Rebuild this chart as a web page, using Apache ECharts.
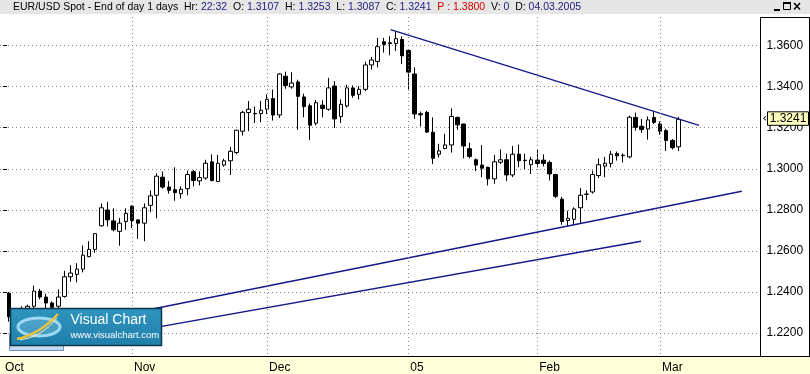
<!DOCTYPE html>
<html><head><meta charset="utf-8">
<script src="https://cdn.jsdelivr.net/npm/echarts@6/dist/echarts.min.js"></script>
<style>html,body{margin:0;padding:0;background:#fff}#c{width:810px;height:374px}</style>
</head><body><div id="c"></div><script>
// ---- data (EUR/USD daily, Oct 2004 - 4 Mar 2005) ----
const openVals = [
1.2394,1.2280,1.2300,1.2285,1.2330,1.2404,1.2375,1.2346,1.2330,1.2378,
1.2474,1.2485,1.2511,1.2572,1.2607,1.2722,1.2799,1.2746,1.2695,1.2743,
1.2818,1.2751,1.2735,1.2822,1.2871,1.2959,1.2911,1.2898,1.2879,1.2903,
1.2986,1.2941,1.2955,1.3034,1.2938,1.3018,1.3039,1.3079,1.3183,1.3274,
1.3270,1.3269,1.3290,1.3342,1.3262,1.3451,1.3399,1.3423,1.3350,1.3307,
1.3222,1.3310,1.3290,1.3403,1.3255,1.3306,1.3394,1.3363,1.3387,1.3506,
1.3523,1.3619,1.3614,1.3610,1.3630,1.3577,1.3462,1.3268,1.3275,1.3178,
1.3071,1.3099,1.3116,1.3250,1.3218,1.3098,1.3044,1.3018,1.3007,1.2951,
1.3032,1.3044,1.2970,1.3071,1.3042,1.3020,1.3042,1.3042,1.3031,1.2972,
1.2852,1.2748,1.2754,1.2810,1.2875,1.2887,1.2967,1.3013,1.3026,1.3074,
1.3066,1.3058,1.3250,1.3207,1.3194,1.3250,1.3218,1.3186,1.3138,1.3107];
const highVals = [
1.2400,1.2318,1.2330,1.2338,1.2431,1.2415,1.2391,1.2354,1.2412,1.2503,
1.2530,1.2540,1.2626,1.2647,1.2684,1.2831,1.2839,1.2807,1.2760,1.2807,
1.2822,1.2753,1.2831,1.2895,1.2978,1.2987,1.2940,1.3007,1.2914,1.2991,
1.2994,1.2987,1.3044,1.3070,1.3068,1.3049,1.3107,1.3190,1.3282,1.3330,
1.3303,1.3331,1.3363,1.3386,1.3466,1.3473,1.3470,1.3434,1.3366,1.3318,
1.3335,1.3334,1.3443,1.3427,1.3338,1.3410,1.3406,1.3403,1.3522,1.3545,
1.3638,1.3638,1.3646,1.3667,1.3646,1.3580,1.3494,1.3279,1.3282,1.3250,
1.3122,1.3170,1.3294,1.3255,1.3220,1.3127,1.3050,1.3116,1.3010,1.3068,
1.3094,1.3074,1.3111,1.3118,1.3074,1.3058,1.3094,1.3070,1.3040,1.2975,
1.2863,1.2796,1.2812,1.2906,1.2895,1.2991,1.3050,1.3058,1.3087,1.3084,
1.3075,1.3259,1.3274,1.3243,1.3255,1.3282,1.3231,1.3195,1.3145,1.3253];
const lowVals = [
1.2255,1.2250,1.2262,1.2270,1.2318,1.2364,1.2320,1.2300,1.2318,1.2372,
1.2450,1.2447,1.2495,1.2569,1.2591,1.2719,1.2719,1.2695,1.2625,1.2703,
1.2711,1.2658,1.2647,1.2788,1.2759,1.2903,1.2879,1.2844,1.2855,1.2871,
1.2914,1.2919,1.2946,1.2938,1.2935,1.3010,1.2970,1.3071,1.3162,1.3183,
1.3223,1.3227,1.3267,1.3235,1.3248,1.3390,1.3390,1.3190,1.3251,1.3140,
1.3212,1.3251,1.3283,1.3199,1.3223,1.3298,1.3346,1.3338,1.3378,1.3483,
1.3494,1.3566,1.3553,1.3574,1.3510,1.3382,1.3243,1.3207,1.3175,1.3023,
1.3055,1.3095,1.3079,1.3190,1.3051,1.3051,1.2988,1.2959,1.2919,1.2927,
1.3023,1.2940,1.2959,1.3007,1.2999,1.2975,1.3007,1.3011,1.2943,1.2858,
1.2727,1.2722,1.2727,1.2735,1.2847,1.2879,1.2955,1.2959,1.3007,1.3040,
1.3031,1.3051,1.3186,1.3175,1.3142,1.3218,1.3166,1.3087,1.3094,1.3087];
const closeVals = [
1.2279,1.2300,1.2285,1.2330,1.2404,1.2375,1.2346,1.2325,1.2375,1.2474,
1.2492,1.2511,1.2579,1.2607,1.2684,1.2810,1.2751,1.2703,1.2735,1.2783,
1.2748,1.2735,1.2810,1.2868,1.2964,1.2911,1.2895,1.2884,1.2900,1.2972,
1.2943,1.2957,1.3027,1.2943,1.3027,1.3039,1.3085,1.3188,1.3275,1.3290,
1.3268,1.3285,1.3338,1.3262,1.3462,1.3406,1.3418,1.3353,1.3303,1.3212,
1.3322,1.3294,1.3394,1.3243,1.3314,1.3394,1.3358,1.3387,1.3506,1.3530,
1.3595,1.3606,1.3610,1.3634,1.3550,1.3471,1.3267,1.3263,1.3179,1.3051,
1.3087,1.3116,1.3255,1.3214,1.3111,1.3060,1.3018,1.3003,1.2951,1.3034,
1.3044,1.2970,1.3071,1.3039,1.3040,1.3044,1.3026,1.3026,1.2975,1.2866,
1.2743,1.2759,1.2804,1.2871,1.2877,1.2972,1.3020,1.3027,1.3071,1.3063,
1.3064,1.3251,1.3202,1.3191,1.3238,1.3226,1.3183,1.3138,1.3103,1.3241];

const slotCount = 124;          // day slots on the time axis (incl. empty future slots)
const firstCandleSlot = 1;      // slot 0 = 1 Oct (no bar drawn)
const monthTickSlots  = [0, 21, 43, 66, 87, 107];
const monthTickLabels = ['Oct', 'Nov', 'Dec', '05', 'Feb', 'Mar'];
const monthGridSlots  = [21, 43, 66, 87, 107];
const yMin = 1.20, yMax = 1.38, yStep = 0.02;
// trend lines: [slot, price] end points
const resistanceLine = [[63.1, 1.3678], [113.35, 1.32115]];
const supportLineA   = [[6.2, 1.22086], [120.3, 1.28902]];
const supportLineB   = [[4.04, 1.21161], [103.92, 1.2647]];
const headerTitle = 'EUR/USD Spot - End of day 1 days';
const headerHour = '22:32', headerPrev = '1.3800', headerVol = '0', headerDate = '04.03.2005';

// ---- chart ----
const FONT = 'Liberation Sans, Arial, sans-serif';
const chart = echarts.init(document.getElementById('c'), null, {renderer: 'canvas', width: 810, height: 374});
const slots = Array.from({length: slotCount}, (_, i) => String(i));
const tickLabelOf = {};
monthTickSlots.forEach((s, j) => { tickLabelOf[s] = monthTickLabels[j]; });
const candleRows = openVals.map((o, i) => [firstCandleSlot + i, o, closeVals[i], lowVals[i], highVals[i]]);
const trendStyle = {color: '#17178c', width: 1.4};

chart.setOption({
  animation: false,
  backgroundColor: '#ffffff',
  grid: [
    {left: -1.2, right: 48.6, top: 4.6, bottom: -5.9},
    {left: -1.2, right: 48.6, top: 356, bottom: 0}
  ],
  xAxis: [
    {type: 'category', gridIndex: 0, data: slots, show: false},
    {type: 'category', gridIndex: 1, data: slots, position: 'top', z: 12,
     axisLine: {show: false},
     axisTick: {show: true, inside: true, length: 7, alignWithLabel: true,
                interval: (i) => (i in tickLabelOf), lineStyle: {color: '#000', width: 1}},
     axisLabel: {show: true, inside: true, interval: (i) => (i in tickLabelOf),
                 formatter: (v, i) => tickLabelOf[i] || '', align: 'left', verticalAlign: 'middle',
                 margin: 12, padding: [0, 0, 0, 2], color: '#000', fontSize: 12, fontFamily: FONT},
     splitLine: {show: false}},
    {type: 'value', gridIndex: 0, min: -0.5, max: slotCount - 0.5, show: false}
  ],
  yAxis: [
    {type: 'value', gridIndex: 0, position: 'right', min: yMin, max: yMax, interval: yStep,
     axisLine: {show: false},
     axisTick: {show: true, length: 4, lineStyle: {color: '#000'}},
     axisLabel: {margin: 5, color: '#000', fontSize: 12, fontFamily: FONT,
                 formatter: v => (v > yMax - 0.005 || v < yMin + 0.005) ? '' : v.toFixed(4)},
     splitLine: {show: true, lineStyle: {color: '#808080', type: [1, 3], width: 1}}},
    {type: 'value', gridIndex: 1, show: false}
  ],
  series: [
    {type: 'candlestick', xAxisIndex: 0, yAxisIndex: 0, data: candleRows,
     encode: {x: 0, y: [1, 2, 3, 4]}, barWidth: 4, silent: true,
     itemStyle: {color: '#ffffff', color0: '#000000', borderColor: '#000000', borderColor0: '#000000',
                 borderColorDoji: '#000000', borderWidth: 1},
     markLine: {silent: true, symbol: 'none', label: {show: false}, animation: false,
                lineStyle: {color: '#808080', type: [1, 3], width: 1},
                emphasis: {disabled: true},
                data: monthGridSlots.map(s => ({xAxis: s}))}},
    {type: 'line', xAxisIndex: 2, yAxisIndex: 0, data: resistanceLine, symbol: 'none', silent: true, lineStyle: trendStyle, z: 3},
    {type: 'line', xAxisIndex: 2, yAxisIndex: 0, data: supportLineA, symbol: 'none', silent: true, lineStyle: trendStyle, z: 3},
    {type: 'line', xAxisIndex: 2, yAxisIndex: 0, data: supportLineB, symbol: 'none', silent: true, lineStyle: trendStyle, z: 3}
  ]
});

const last = closeVals.length - 1;
const tagY = chart.convertToPixel({yAxisIndex: 0}, closeVals[last]);
const headerRich = '{k|' + headerTitle + '  Hr: }{v|' + headerHour + '}' +
  '{k|  O: }{v|' + openVals[last].toFixed(4) + '}' +
  '{k|  H: }{v|' + highVals[last].toFixed(4) + '}' +
  '{k|  L: }{v|' + lowVals[last].toFixed(4) + '}' +
  '{k|  C: }{v|' + closeVals[last].toFixed(4) + '}' +
  '{r|  P : ' + headerPrev + '}' +
  '{k|  V: }{v|' + headerVol + '}' +
  '{k|  D: }{v|' + headerDate + '}';
const hf = '10.5px ' + FONT;

chart.setOption({
  graphic: [
    // x-axis band
    {type: 'rect', z: 5, silent: true, shape: {x: 0, y: 356, width: 810, height: 18}, style: {fill: '#ffffd9'}},
    {type: 'line', z: 13, silent: true, shape: {x1: 0, y1: 356.5, x2: 810, y2: 356.5}, style: {stroke: '#000', lineWidth: 1}},
    // right price panel frame
    {type: 'line', z: 13, silent: true, shape: {x1: 760.5, y1: 17, x2: 760.5, y2: 356}, style: {stroke: '#000', lineWidth: 1}},
    {type: 'line', z: 13, silent: true, shape: {x1: 760.5, y1: 17.5, x2: 809.5, y2: 17.5}, style: {stroke: '#000', lineWidth: 1}},
    {type: 'line', z: 13, silent: true, shape: {x1: 809.5, y1: 17, x2: 809.5, y2: 356}, style: {stroke: '#000', lineWidth: 1}},
    // header bar
    {type: 'rect', z: 10, silent: true, shape: {x: 0, y: 0, width: 810, height: 14}, style: {fill: '#e6e6e6'}},
    {type: 'text', z: 11, silent: true, style: {x: 13, y: 7, text: headerRich, verticalAlign: 'middle', font: hf,
      rich: {k: {fill: '#000', font: hf}, v: {fill: '#1c1c80', font: hf}, r: {fill: '#d40000', font: hf}}}},
    // window buttons
    {type: 'rect', z: 11, silent: true, shape: {x: 774, y: 9, width: 6, height: 2}, style: {fill: '#000'}},
    {type: 'rect', z: 11, silent: true, shape: {x: 783.5, y: 2.5, width: 7, height: 7}, style: {fill: 'none', stroke: '#000', lineWidth: 1}},
    {type: 'rect', z: 11, silent: true, shape: {x: 783, y: 2, width: 8, height: 2}, style: {fill: '#000'}},
    {type: 'line', z: 11, silent: true, shape: {x1: 794, y1: 3, x2: 800, y2: 9.5}, style: {stroke: '#000', lineWidth: 1.5}},
    {type: 'line', z: 11, silent: true, shape: {x1: 800, y1: 3, x2: 794, y2: 9.5}, style: {stroke: '#000', lineWidth: 1.5}},
    // logo
    {type: 'rect', z: 20, silent: true, shape: {x: 9.5, y: 334.5, width: 54, height: 16}, style: {fill: '#c6daf0', stroke: '#6f90c0', lineWidth: 1}},
    {type: 'rect', z: 21, silent: true, shape: {x: 10.5, y: 308.5, width: 151, height: 37},
     style: {fill: new echarts.graphic.LinearGradient(0, 0, 0, 1, [{offset: 0, color: '#2f95bf'}, {offset: 1, color: '#1f7eaa'}]),
             stroke: '#0e3550', lineWidth: 1.5}},
    {type: 'ellipse', z: 22, silent: true, shape: {cx: 39, cy: 327, rx: 21, ry: 9},
     style: {fill: 'rgba(170,225,250,0.25)', stroke: '#9fd8f4', lineWidth: 3}},
    {type: 'bezierCurve', z: 23, silent: true, shape: {x1: 17, y1: 339, cpx1: 40, cpy1: 334, x2: 58, y2: 314},
     style: {stroke: '#f0c43a', lineWidth: 2.5, fill: 'none'}},
    {type: 'bezierCurve', z: 23, silent: true, shape: {x1: 20, y1: 340, cpx1: 42, cpy1: 337, x2: 57, y2: 318},
     style: {stroke: '#fff2b0', lineWidth: 1, fill: 'none'}},
    {type: 'text', z: 24, silent: true, style: {x: 70.5, y: 320.5, text: 'Visual Chart', verticalAlign: 'middle',
     font: '14px ' + FONT, fill: '#ffffff', textShadowColor: 'rgba(0,0,0,0.5)', textShadowOffsetX: 1, textShadowOffsetY: 1}},
    {type: 'text', z: 24, silent: true, style: {x: 70.5, y: 335.5, text: 'www.visualchart.com', verticalAlign: 'middle',
     font: '9.5px ' + FONT, fill: '#ffffff'}},
    // last price tag
    {type: 'rect', z: 30, silent: true, shape: {x: 767.5, y: tagY - 7.5, width: 41, height: 13.5}, style: {fill: '#ffffc0', stroke: '#000', lineWidth: 1}},
    {type: 'text', z: 31, silent: true, style: {x: 788, y: tagY - 0.5, text: closeVals[last].toFixed(4), align: 'center', verticalAlign: 'middle', font: '12px ' + FONT, fill: '#000'}},
    {type: 'polyline', z: 31, silent: true, shape: {points: [[766, tagY - 3], [763.5, tagY - 1], [766, tagY + 1]]}, style: {stroke: '#000', lineWidth: 1, fill: 'none'}}
  ]
});
</script></body></html>
